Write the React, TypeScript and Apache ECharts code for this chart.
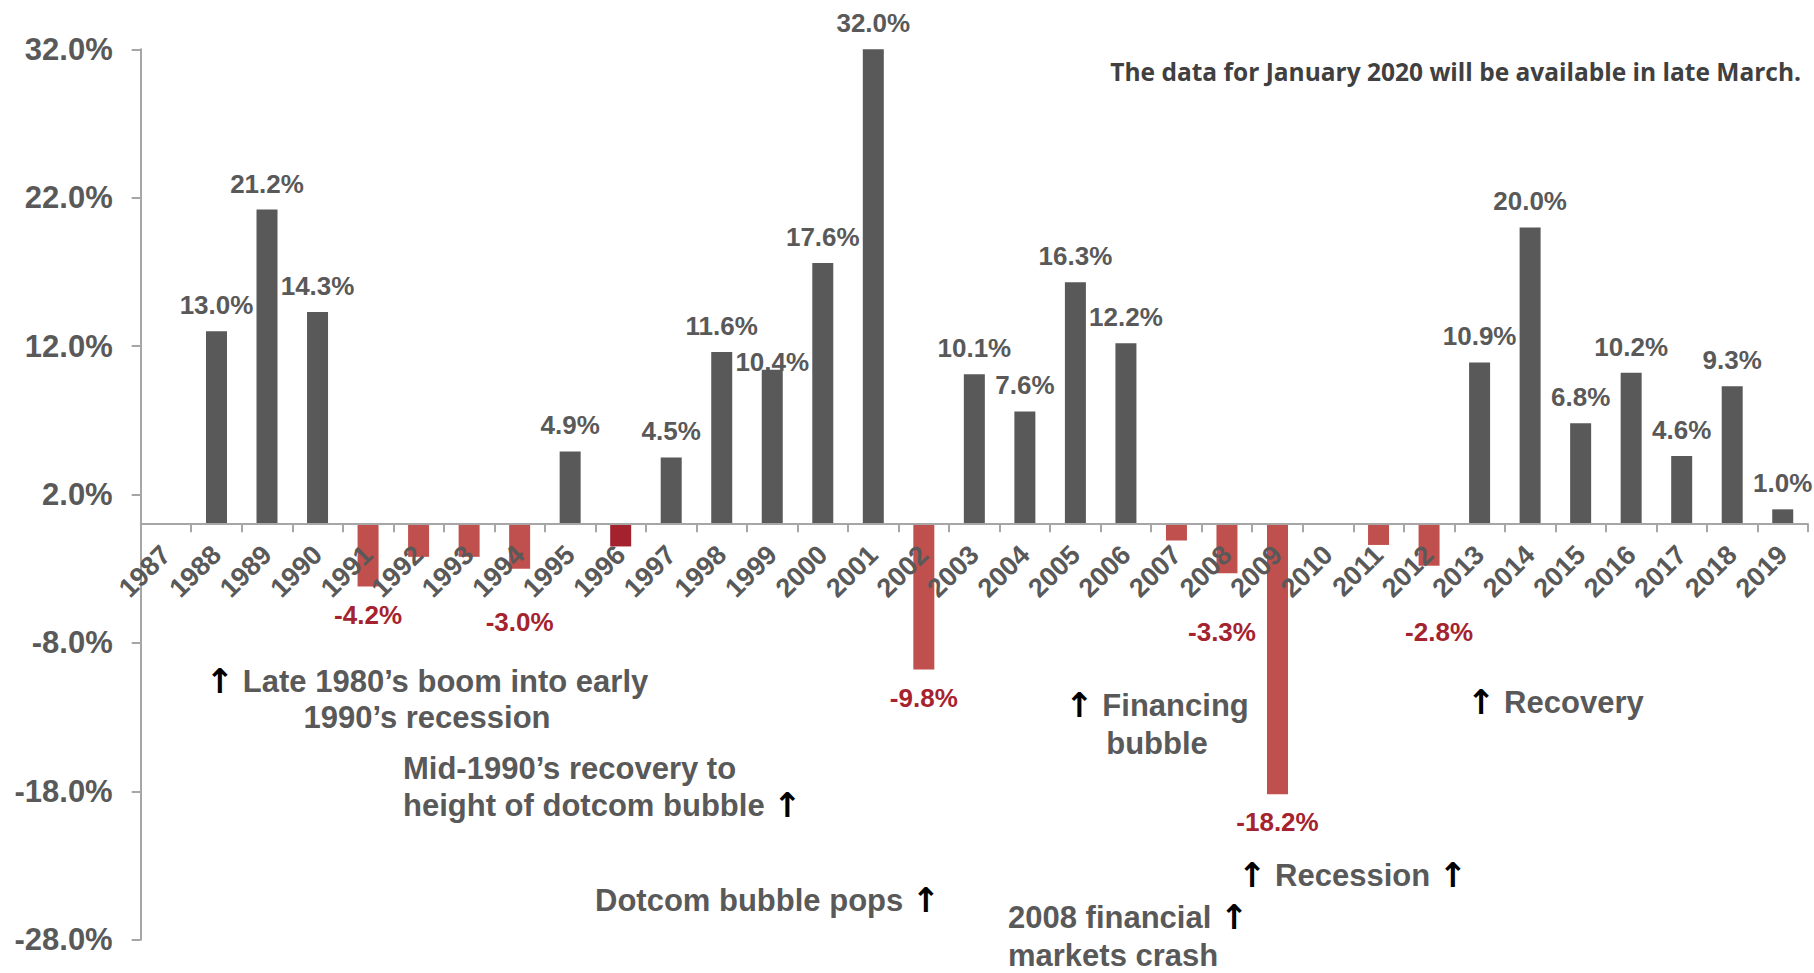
import React, { useEffect, useRef } from 'react';
import * as echarts from 'echarts';

// ---- Data ----
const years: string[] = [
  '1987', '1988', '1989', '1990', '1991', '1992', '1993', '1994', '1995', '1996', '1997',
  '1998', '1999', '2000', '2001', '2002', '2003', '2004', '2005', '2006', '2007', '2008',
  '2009', '2010', '2011', '2012', '2013', '2014', '2015', '2016', '2017', '2018', '2019',
];
const returns: (number | null)[] = [
  null, 13.0, 21.2, 14.3, -4.2, -2.2, -2.2, -3.0, 4.9, -1.5, 4.5,
  11.6, 10.4, 17.6, 32.0, -9.8, 10.1, 7.6, 16.3, 12.2, -1.1, -3.3,
  -18.2, null, -1.4, -2.8, 10.9, 20.0, 6.8, 10.2, 4.6, 9.3, 1.0,
];
const unlabeledYears: string[] = ['1992', '1993', '1996', '2007', '2011'];
const highlightYear = '1996';
const yTicks: number[] = [-28, -18, -8, 2, 12, 22, 32];
const noteText = 'The data for January 2020 will be available in late March.';

// annotation lines (text; arrows marked as {a|↑})
const annotationLines: string[] = [
  '{a|↑} Late 1980’s boom into early',
  '1990’s recession',
  'Mid-1990’s recovery to',
  'height of dotcom bubble {a|↑}',
  'Dotcom bubble pops {a|↑}',
  '{a|↑} Financing',
  'bubble',
  '2008 financial {a|↑}',
  'markets crash',
  '{a|↑} Recession {a|↑}',
  '{a|↑} Recovery',
];

// ---- Layout / style (not data) ----
const GRAY = '#595959';
const RED = '#c0504d';
const DARK_RED = '#a3222d';
const LABEL_RED = '#a5232e';
const AXIS = '#a6a6a6';
const FONT = '"Liberation Sans", Arial, sans-serif';

const GRID_TOP = 49.3;
const GRID_BOTTOM = 33.3;
const CHART_H = 973;

const annotationPos: { x: number; y: number; align: 'left' | 'center' }[] = [
  { x: 427, y: 681, align: 'center' },
  { x: 427, y: 717, align: 'center' },
  { x: 403, y: 768, align: 'left' },
  { x: 403, y: 805, align: 'left' },
  { x: 595, y: 900, align: 'left' },
  { x: 1157, y: 705, align: 'center' },
  { x: 1157, y: 743, align: 'center' },
  { x: 1008, y: 917, align: 'left' },
  { x: 1008, y: 955, align: 'left' },
  { x: 1238, y: 875, align: 'left' },
  { x: 1467, y: 702, align: 'left' },
];

const labelTweaks: Record<string, { distance?: number; offset?: [number, number] }> = {
  '1999': { distance: -5 },
  '1994': { distance: 40 },
  '2008': { distance: 46, offset: [-5, 0] },
  '2012': { distance: 53, offset: [10, 0] },
};

export default function App() {
  const ref = useRef<HTMLDivElement>(null);

  useEffect(() => {
    document.body.style.margin = '0';
    if (!ref.current) return;
    const chart = echarts.init(ref.current, undefined, { renderer: 'svg' });

    const yMin = yTicks[0];
    const yMax = yTicks[yTicks.length - 1];
    const gridH = CHART_H - GRID_TOP - GRID_BOTTOM;
    // move the category axis up from the grid bottom to the zero line
    const zeroOffset = -(gridH * (0 - yMin)) / (yMax - yMin);

    const seriesData = returns.map((v, i) => {
      const y = years[i];
      if (v === null) return { value: '-' };
      const neg = v < 0;
      const tw = labelTweaks[y] || {};
      return {
        value: v,
        itemStyle: { color: y === highlightYear ? DARK_RED : neg ? RED : GRAY },
        label: {
          show: !unlabeledYears.includes(y),
          position: neg ? 'bottom' : 'top',
          distance: tw.distance ?? (neg ? 15 : 13),
          offset: tw.offset ?? [0, 0],
          color: neg ? LABEL_RED : GRAY,
        },
      };
    });

    const graphics: any[] = annotationLines.map((t, i) => ({
      type: 'text',
      x: annotationPos[i].x,
      y: annotationPos[i].y,
      style: {
        text: t,
        fill: GRAY,
        fontSize: 31,
        fontWeight: 'bold',
        fontFamily: FONT,
        align: annotationPos[i].align,
        verticalAlign: 'middle',
        textAlign: annotationPos[i].align,
        textVerticalAlign: 'middle',
        rich: {
          a: {
            fill: '#000000',
            fontSize: 34,
            fontWeight: 'bold',
            fontFamily: '"DejaVu Sans", sans-serif',
          },
        },
      },
    }));
    graphics.push({
      type: 'text',
      x: 1801,
      y: 71,
      style: {
        text: noteText,
        fill: '#404040',
        fontSize: 24.5,
        fontWeight: 'bold',
        fontFamily: '"Open Sans", Lato, sans-serif',
        align: 'right',
        verticalAlign: 'middle',
        textAlign: 'right',
        textVerticalAlign: 'middle',
      },
    });

    chart.setOption({
      animation: false,
      backgroundColor: '#ffffff',
      grid: {
        left: 140.7,
        right: 6,
        top: GRID_TOP,
        bottom: GRID_BOTTOM,
        containLabel: false,
        outerBoundsMode: 'none',
      },
      xAxis: {
        type: 'category',
        data: years,
        position: 'bottom',
        offset: zeroOffset,
        z: 10,
        axisLine: { show: true, onZero: false, lineStyle: { color: AXIS, width: 2 } },
        axisTick: { show: true, length: 8, alignWithLabel: false, lineStyle: { color: AXIS, width: 2 } },
        axisLabel: {
          interval: 0,
          rotate: 45,
          margin: 26,
          color: GRAY,
          fontSize: 27,
          fontWeight: 'bold',
          fontFamily: FONT,
          hideOverlap: false,
        },
        splitLine: { show: false },
      },
      yAxis: {
        type: 'value',
        min: yMin,
        max: yMax,
        interval: yTicks[1] - yTicks[0],
        axisLine: { show: true, lineStyle: { color: AXIS, width: 2 } },
        axisTick: { show: true, length: 9, lineStyle: { color: AXIS, width: 2 } },
        splitLine: { show: false },
        axisLabel: {
          margin: 28,
          color: GRAY,
          fontSize: 31,
          fontWeight: 'bold',
          fontFamily: FONT,
          formatter: (v: number) => v.toFixed(1) + '%',
        },
      },
      series: [
        {
          type: 'bar',
          barWidth: 21,
          data: seriesData,
          label: {
            show: true,
            fontSize: 26,
            fontWeight: 'bold',
            fontFamily: FONT,
            formatter: (p: any) => Number(p.value).toFixed(1) + '%',
          },
        },
      ],
      graphic: graphics,
    });

    return () => chart.dispose();
  }, []);

  return <div ref={ref} style={{ width: 1814, height: 973 }} />;
}
